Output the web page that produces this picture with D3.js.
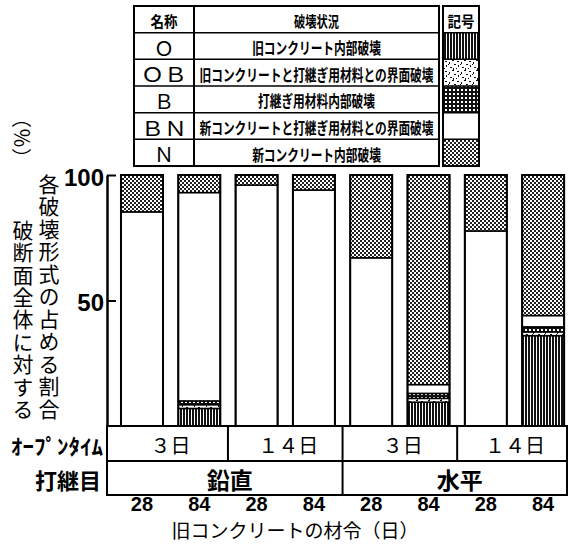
<!DOCTYPE html>
<html>
<head>
<meta charset="utf-8">
<script src="https://cdn.jsdelivr.net/npm/d3@7"></script>
<style>
body { margin: 0; background: #fff; }
svg { display: block; }
text { fill: #000; }
</style>
</head>
<body>
<div id="chart"></div>
<script>
var svgwidth = 576;
var svgheight = 544;

// data
var ages = ["28", "84", "28", "84", "28", "84", "28", "84"];
var openTimes = ["３日", "１４日", "３日", "１４日"];
var joints = ["鉛直", "水平"];
var modes = ["O", "OB", "B", "BN", "N"];
var modeNames = ["Ｏ", "ＯＢ", "Ｂ", "ＢＮ", "Ｎ"];
var modeDesc = ["旧コンクリート内部破壊", "旧コンクリートと打継ぎ用材料との界面破壊", "打継ぎ用材料内部破壊",
                "新コンクリートと打継ぎ用材料との界面破壊", "新コンクリート内部破壊"];
var valO  = [0, 7, 0, 0, 0, 9.5, 0, 36];
var valOB = [0, 1.5, 0, 0, 0, 1.5, 0, 1.5];
var valB  = [0, 1.5, 0, 0, 0, 2, 0, 2];
var valBN = [85.3, 83, 96, 94, 67, 3.5, 77.7, 4.5];
var valN  = [14.7, 7, 4, 6, 33, 83.5, 22.3, 56];
var yTicks = [50, 100];

var jp = "'Noto Sans CJK JP', sans-serif";
var narrow = "'Liberation Sans Narrow', 'Liberation Sans', sans-serif";

var svg = d3.select("#chart").append("svg").attr("width", svgwidth).attr("height", svgheight);

// fill patterns
var defs = svg.append("defs");
var pO = defs.append("pattern").attr("id", "pO").attr("patternUnits", "userSpaceOnUse").attr("width", 3).attr("height", 6);
pO.append("rect").attr("width", 3).attr("height", 6).attr("fill", "#fff");
pO.append("rect").attr("width", 2).attr("height", 6).attr("fill", "#111");

var pOB = defs.append("pattern").attr("id", "pOB").attr("patternUnits", "userSpaceOnUse").attr("width", 12).attr("height", 10);
pOB.append("rect").attr("width", 12).attr("height", 10).attr("fill", "#fff");
[[1,1,2,1],[5,2,1,2],[8,0,2,1],[10,4,2,1],[2,5,1,2],[6,7,2,1],[0,8,1,1],[9,8,1,2],[4,4,1,1]].forEach(function(d) {
    pOB.append("rect").attr("x", d[0]).attr("y", d[1]).attr("width", d[2]).attr("height", d[3]).attr("fill", "#111");
});

var pB = defs.append("pattern").attr("id", "pB").attr("patternUnits", "userSpaceOnUse").attr("width", 4).attr("height", 4);
pB.append("rect").attr("width", 4).attr("height", 4).attr("fill", "#111");
pB.append("rect").attr("x", 1).attr("y", 1).attr("width", 2).attr("height", 2).attr("fill", "#fff");

var pN = defs.append("pattern").attr("id", "pN").attr("patternUnits", "userSpaceOnUse").attr("width", 4).attr("height", 4);
pN.append("rect").attr("width", 4).attr("height", 4).attr("fill", "#fff");
pN.append("rect").attr("width", 2).attr("height", 2).attr("fill", "#222");
pN.append("rect").attr("x", 2).attr("y", 2).attr("width", 2).attr("height", 2).attr("fill", "#222");

var fills = {O: "url(#pO)", OB: "url(#pOB)", B: "url(#pB)", BN: "#fff", N: "url(#pN)"};

// scales
var x = d3.scaleBand().domain(d3.range(ages.length)).range([107, 567]).paddingInner(0.267).paddingOuter(0.147).align(0.83);
var y = d3.scaleLinear().domain([0, 100]).range([426, 175]);

var rows = ages.map(function(a, i) {
    return {O: valO[i], OB: valOB[i], B: valB[i], BN: valBN[i], N: valN[i]};
});
var stacked = d3.stack().keys(modes)(rows);

var bars = svg.append("g");
stacked.forEach(function(layer) {
    bars.selectAll(null).data(layer.map(function(d, i) { return {i: i, y0: d[0], y1: d[1]}; }).filter(function(d) { return d.y1 > d.y0; }))
        .enter().append("rect")
        .attr("x", d => x(d.i)).attr("width", x.bandwidth())
        .attr("y", d => y(d.y1)).attr("height", d => y(d.y0) - y(d.y1))
        .attr("fill", fills[layer.key]).attr("stroke", "#000").attr("stroke-width", 1.5);
});
bars.selectAll(".outline").data(d3.range(ages.length)).enter().append("rect")
    .attr("x", d => x(d)).attr("width", x.bandwidth())
    .attr("y", y(100)).attr("height", y(0) - y(100))
    .attr("fill", "none").attr("stroke", "#000").attr("stroke-width", 2);

// y axis
var axisleft = d3.axisLeft(y).tickValues(yTicks).tickSize(-9).tickSizeOuter(0).tickPadding(3);
var yg = svg.append("g").attr("transform", "translate(107,0)").call(axisleft);
yg.select(".domain").attr("stroke-width", 2.5);
yg.selectAll(".tick line").attr("stroke-width", 2);
yg.selectAll(".tick text").attr("dy", "0.42em").style("font-family", narrow).style("font-size", "24px").style("font-weight", "bold").attr("fill", "#000");

// y axis title, vertical
svg.append("text").attr("x", 23).attr("y", 421).attr("text-anchor", "end")
    .style("writing-mode", "vertical-rl").style("font-family", jp).style("font-size", "21px").style("letter-spacing", "1.4px")
    .text("破断面全体に対する");
svg.append("text").attr("x", 49).attr("y", 421).attr("text-anchor", "end")
    .style("writing-mode", "vertical-rl").style("font-family", jp).style("font-size", "21px").style("letter-spacing", "1.5px")
    .text("各破壊形式の占める割合");
svg.append("text").attr("x", 22).attr("y", 138).attr("transform", "rotate(90,22,138)")
    .attr("text-anchor", "middle").attr("dominant-baseline", "central")
    .style("font-family", jp).style("font-size", "20px")
    .text("（％）");

// category table under the bars
var tblL = 107, tblR = 567, r0 = 426, r1 = 461, r2 = 495;
var tbl = svg.append("g").attr("stroke", "#000").attr("stroke-width", 2).attr("fill", "none");
tbl.append("rect").attr("x", tblL).attr("y", r0).attr("width", tblR - tblL).attr("height", r2 - r0);
tbl.append("line").attr("x1", tblL).attr("x2", tblR).attr("y1", r1).attr("y2", r1);
function splitAt(i) { return x(i) - x.step() * x.paddingInner() / 2; }
openTimes.forEach(function(t, k) {
    if (k > 0) tbl.append("line").attr("x1", splitAt(2 * k)).attr("x2", splitAt(2 * k)).attr("y1", r0).attr("y2", r1);
});
tbl.append("line").attr("x1", splitAt(4)).attr("x2", splitAt(4)).attr("y1", r1).attr("y2", r2);

openTimes.forEach(function(t, k) {
    var a = k === 0 ? tblL : splitAt(2 * k);
    var b = k === openTimes.length - 1 ? tblR : splitAt(2 * k + 2);
    svg.append("text").attr("x", (a + b) / 2 + 3).attr("y", (r0 + r1) / 2 + 1).attr("text-anchor", "middle")
        .attr("dominant-baseline", "central").style("font-family", jp).style("font-size", "20px").text(t);
});
joints.forEach(function(t, k) {
    var a = k === 0 ? tblL : splitAt(4);
    var b = k === 0 ? splitAt(4) : tblR;
    svg.append("text").attr("x", (a + b) / 2 + 5).attr("y", (r1 + r2) / 2 + 1).attr("text-anchor", "middle")
        .attr("dominant-baseline", "central").style("font-family", jp).style("font-size", "23px").style("font-weight", "bold").text(t);
});
svg.append("text").attr("x", 103).attr("y", (r0 + r1) / 2 + 1).attr("text-anchor", "end").attr("dominant-baseline", "central")
    .attr("textLength", 92).attr("lengthAdjust", "spacingAndGlyphs")
    .style("font-family", jp).style("font-size", "21px").style("font-weight", "bold").text("ｵｰﾌﾟﾝﾀｲﾑ");
svg.append("text").attr("x", 101).attr("y", (r1 + r2) / 2 + 1).attr("text-anchor", "end").attr("dominant-baseline", "central")
    .style("font-family", jp).style("font-size", "22px").style("font-weight", "bold").text("打継目");

// age labels and x title
svg.selectAll(".age").data(ages).enter().append("text")
    .attr("x", (d, i) => x(i) + x.bandwidth() / 2).attr("y", 511).attr("text-anchor", "middle")
    .style("font-family", narrow).style("font-size", "20px").style("font-weight", "bold").text(d => d);
svg.append("text").attr("x", 295).attr("y", 538).attr("text-anchor", "middle")
    .style("font-family", jp).style("font-size", "19px").text("旧コンクリートの材令（日）");

// legend table
var lx0 = 134, lx1 = 194, lx2 = 439, sx0 = 443, sx1 = 479, ly0 = 6, lh = 26.67;
var leg = svg.append("g").attr("stroke", "#000").attr("stroke-width", 2).attr("fill", "none");
leg.append("rect").attr("x", lx0).attr("y", ly0).attr("width", lx2 - lx0).attr("height", lh * 6);
leg.append("rect").attr("x", sx0).attr("y", ly0).attr("width", sx1 - sx0).attr("height", lh * 6);
leg.append("line").attr("x1", lx1).attr("x2", lx1).attr("y1", ly0).attr("y2", ly0 + lh * 6);
modes.forEach(function(m, i) {
    var yy = ly0 + lh * (i + 1);
    svg.append("rect").attr("x", sx0).attr("y", yy).attr("width", sx1 - sx0).attr("height", lh).attr("fill", fills[m]);
    leg.append("line").attr("x1", lx0).attr("x2", lx2).attr("y1", yy).attr("y2", yy).attr("stroke-width", 1.5);
    leg.append("line").attr("x1", sx0).attr("x2", sx1).attr("y1", yy).attr("y2", yy).attr("stroke-width", 1.5);
});
leg.raise();

function legText(t, cx, row, w, size, weight) {
    var el = svg.append("text").attr("x", cx).attr("y", ly0 + lh * row + lh / 2 + 1).attr("text-anchor", "middle")
        .attr("dominant-baseline", "central").style("font-family", jp).style("font-size", size + "px").style("font-weight", weight).text(t);
    if (w) el.attr("textLength", w).attr("lengthAdjust", "spacingAndGlyphs");
}
legText("名称", (lx0 + lx1) / 2, 0, 27, 15, "bold");
legText("破壊状況", (lx1 + lx2) / 2, 0, 45, 15, "bold");
legText("記号", (sx0 + sx1) / 2, 0, 27, 15, "bold");
modes.forEach(function(m, i) {
    legText(modeNames[i], (lx0 + lx1) / 2, i + 1, modeNames[i].length > 1 ? 46 : 0, 20, "normal");
    legText(modeDesc[i], (lx1 + lx2) / 2, i + 1, modeDesc[i].length * 11.7, 16, "bold");
});
</script>
</body>
</html>
